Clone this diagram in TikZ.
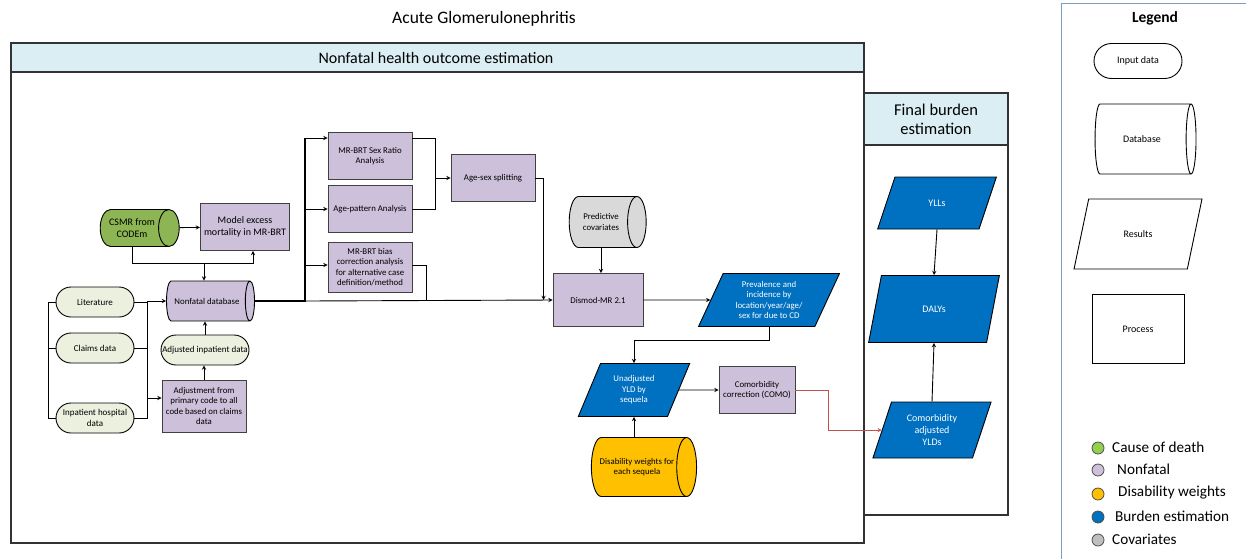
\documentclass[tikz,border=0pt]{standalone}
\usepackage{fontspec}
\setmainfont{Carlito}
\usepackage{tikz}
\usetikzlibrary{shapes.geometric,shapes.misc,arrows}

\definecolor{hdrblue}{HTML}{DAEEF3}
\definecolor{nonfatal}{HTML}{CCC0DA}
\definecolor{inputgreen}{HTML}{EBF1DE}
\definecolor{codgreen}{HTML}{8DB553}
\definecolor{dwyellow}{HTML}{FFC000}
\definecolor{burdenblue}{HTML}{0070C0}
\definecolor{covgray}{HTML}{D9D9D9}
\definecolor{leggreen}{HTML}{92D050}
\definecolor{leggray}{HTML}{BFBFBF}
\definecolor{legframe}{HTML}{7F9DC3}
\definecolor{comored}{HTML}{C0504D}

\begin{document}
\begin{tikzpicture}[x=1pt, y=-1pt,
    process/.style={rectangle, draw=black!75, fill=nonfatal, line width=0.9pt, align=center, inner sep=2pt, font=\fontsize{8.8}{10.5}\selectfont},
    input/.style={rounded rectangle, draw, fill=inputgreen, line width=0.9pt, align=center, inner sep=2pt, minimum width=82pt, minimum height=30pt, font=\fontsize{9}{10.5}\selectfont},
    database/.style={cylinder, shape aspect=0.9, draw, line width=0.9pt, align=center, inner sep=2pt, font=\fontsize{8.8}{10.5}\selectfont},
    result/.style={trapezium, trapezium left angle=65, trapezium right angle=115, trapezium stretches=true, draw, fill=burdenblue, line width=0.9pt, text=white, align=center, inner sep=1pt, font=\fontsize{8.8}{10.5}\selectfont},
    header/.style={font=\fontsize{16}{18}\selectfont, align=center},
    dot/.style={circle, draw=black!70, line width=0.8pt, minimum size=12pt, inner sep=0pt},
    legtext/.style={anchor=west, inner sep=0pt, font=\fontsize{15.2}{17}\selectfont},
    arrow/.style={->, >=stealth, line width=0.9pt},
    redarrow/.style={->, >=stealth, line width=0.9pt, comored}
]
\useasboundingbox (0,0) rectangle (1246,558);

% Title
\node[font=\fontsize{17.5}{20}\selectfont] (title) at (484,19) {Acute Glomerulonephritis};

% Panels
\draw[line width=1.2pt, black!80] (11,43) rectangle (864,543);
\draw[line width=1.2pt, black!80, fill=hdrblue] (11,43) rectangle (864,72);
\node[header] (nfhdr) at (436,57.5) {Nonfatal health outcome estimation};
\draw[line width=1.2pt, black!80] (864,93) rectangle (1008,515);
\draw[line width=1.2pt, black!80, fill=hdrblue] (864,93) rectangle (1008,145);
\node[header, font=\fontsize{16.5}{19}\selectfont] (fbhdr) at (936,119) {Final burden\\estimation};

% Inputs
\node[input] (lit) at (95,302) {Literature};
\node[input] (claims) at (95,348) {Claims data};
\node[input] (inpat) at (95,418) {Inpatient hospital\\data};
\node[input, minimum width=92pt] (adjdata) at (205,350) {Adjusted inpatient data};

% Databases (cylinder: width is across, height along the axis)
\node[database, fill=codgreen, minimum height=79pt, minimum width=37pt, font=\fontsize{10}{12}\selectfont] (csmr) at (132,228) {CSMR from\\CODEm};
\node[database, fill=nonfatal, minimum height=88pt, minimum width=40pt] (nfdb) at (207,301) {Nonfatal database};
\node[database, fill=covgray, minimum height=77pt, minimum width=51pt] (covar) at (601,222) {Predictive\\covariates};
\node[database, fill=dwyellow, minimum height=105pt, minimum width=59pt] (dw) at (637,467) {Disability weights for\\each sequela};

% Processes
\node[process, minimum width=89pt, minimum height=47pt, font=\fontsize{10}{12}\selectfont] (excess) at (245,227) {Model excess\\mortality in MR-BRT};
\node[process, minimum width=84pt, minimum height=52pt] (adjust) at (204,406) {Adjustment from\\primary code to all\\code based on claims\\data};
\node[process, minimum width=84pt, minimum height=47pt] (sexratio) at (370,156) {MR-BRT Sex Ratio\\Analysis};
\node[process, minimum width=84pt, minimum height=47pt] (agepat) at (370,209) {Age-pattern Analysis};
\node[process, minimum width=84pt, minimum height=50pt] (bias) at (370,267) {MR-BRT bias\\correction analysis\\for alternative case\\definition/method};
\node[process, minimum width=84pt, minimum height=47pt] (agesex) at (493,178) {Age-sex splitting};
\node[process, minimum width=90pt, minimum height=53pt] (dismod) at (598,300) {Dismod-MR 2.1};
\node[process, minimum width=76pt, minimum height=47pt] (como) at (757,390) {Comorbidity\\correction (COMO)};

% Results
\node[result, minimum width=141pt, minimum height=53pt] (prev) at (769,300) {Prevalence and\\incidence by\\location/year/age/\\sex for due to CD};
\node[result, minimum width=112pt, minimum height=53pt] (unadj) at (634,390) {Unadjusted\\YLD by\\sequela};
\node[result, minimum width=119pt, minimum height=52pt, font=\fontsize{10}{12}\selectfont] (ylls) at (937,203) {YLLs};
\node[result, trapezium left angle=70, trapezium right angle=110, minimum width=131pt, minimum height=67pt, font=\fontsize{10}{12}\selectfont] (dalys) at (934,309) {DALYs};
\node[result, trapezium left angle=70, trapezium right angle=110, minimum width=119pt, minimum height=56pt, font=\fontsize{10}{12}\selectfont] (ylds) at (932,430) {Comorbidity\\adjusted\\YLDs};

% Cause of death branch
\coordinate (cjoin) at (204,263);
\draw[arrow] (csmr) -- (excess);
\draw[arrow] (csmr.south) |- (cjoin) -- (cjoin |- nfdb.north);
\draw[arrow] (cjoin) -| ([xshift=8pt]excess.south);

% Input data into database
\coordinate (rbus) at (147,0);
\coordinate (adjin) at ([yshift=8pt]adjust.west);
\draw[line width=0.9pt] (lit.west) -- ++(-7,0) |- (inpat.west);
\draw[line width=0.9pt] (claims.west) -- ++(-7,0);
\draw[line width=0.9pt] (lit.east) -| (rbus |- inpat.east) -- (inpat.east);
\draw[line width=0.9pt] (claims.east) -- (claims.east -| rbus);
\draw[arrow] (rbus |- nfdb.west) -- (nfdb.west);
\draw[arrow] (rbus |- adjin) -- (adjin);
\draw[arrow] (adjust.north) -- (adjust.north |- adjdata.south);
\draw[arrow] (adjdata.north) -- (adjdata.north |- nfdb.south);

% Database to analyses
\coordinate (trunk) at (305,301);
\coordinate (srin) at ([yshift=18pt]sexratio.west);
\coordinate (srout) at ([yshift=18pt]sexratio.east);
\coordinate (biasin) at ([yshift=2pt]bias.west);
\coordinate (biasout) at ([yshift=2pt]bias.east);
\draw[line width=1.8pt] (nfdb.east) -- (trunk) -- (trunk |- srin);
\draw[arrow] (trunk |- srin) -- (srin);
\draw[arrow] (trunk |- agepat.west) -- (agepat.west);
\draw[arrow] (trunk |- biasin) -- (biasin);
\draw[arrow] (trunk) -- (dismod.west);

% Age-sex splitting
\coordinate (mrg) at (435,0);
\draw[line width=0.9pt] (srout) -| (mrg |- agepat.east) -- (agepat.east);
\draw[arrow] (mrg |- agesex.west) -- (agesex.west);
\draw[arrow] (agesex.east) -| ([xshift=-9pt]dismod.west);
\coordinate (bjoin) at (426,300);
\draw[line width=0.9pt] (biasout) -| (bjoin);

% Dismod and YLDs
\draw[arrow] (covar.south) -- (covar.south |- dismod.north);
\draw[arrow] (dismod.east) -- (prev.west);
\draw[arrow] (prev.south) -- ++(0,13) -| (unadj.north);
\draw[arrow] (unadj.east) -- (como.west);
\draw[arrow] (unadj.south |- dw.north) -- (unadj.south);
\draw[redarrow] (como.east) -- ++(33,0) |- (ylds.west);

% Final burden
\draw[arrow] (ylls.south) -- (dalys.north);
\draw[arrow] (ylds.north) -- (dalys.south);

% Legend
\begin{scope}
\clip (0,0) rectangle (1246,558);
\draw[line width=1pt, legframe] (1061,3) rectangle (1260,570);
\end{scope}
\node[font=\bfseries\fontsize{15.5}{18}\selectfont] (legtitle) at (1155,18) {Legend};
\node[input, fill=white, minimum width=92pt, minimum height=35pt, font=\fontsize{10}{12}\selectfont] (leginput) at (1138,61) {Input data};
\node[database, fill=white, minimum height=101pt, minimum width=70pt, font=\fontsize{10}{12}\selectfont] (legdb) at (1142,139) {Database};
\node[result, fill=white, text=black, trapezium left angle=63, trapezium right angle=117, minimum width=128pt, minimum height=70pt, font=\fontsize{10}{12}\selectfont] (legres) at (1138,234) {Results};
\node[process, fill=white, draw=black, minimum width=92pt, minimum height=69pt, font=\fontsize{10}{12}\selectfont] (legproc) at (1138,329) {Process};

\node[dot, fill=leggreen] (dotcod) at (1098,448) {};
\node[legtext] (labcod) at (1112,447) {Cause of death};
\node[dot, fill=nonfatal] (dotnf) at (1098,470) {};
\node[legtext] (labnf) at (1117,469) {Nonfatal};
\node[dot, fill=dwyellow] (dotdw) at (1098,494) {};
\node[legtext] (labdw) at (1118,493) {Disability weights};
\node[dot, fill=burdenblue] (dotbe) at (1098,517) {};
\node[legtext] (labbe) at (1115,516) {Burden estimation};
\node[dot, fill=leggray] (dotcov) at (1098,540) {};
\node[legtext] (labcov) at (1112,539) {Covariates};

\end{tikzpicture}
\end{document}
